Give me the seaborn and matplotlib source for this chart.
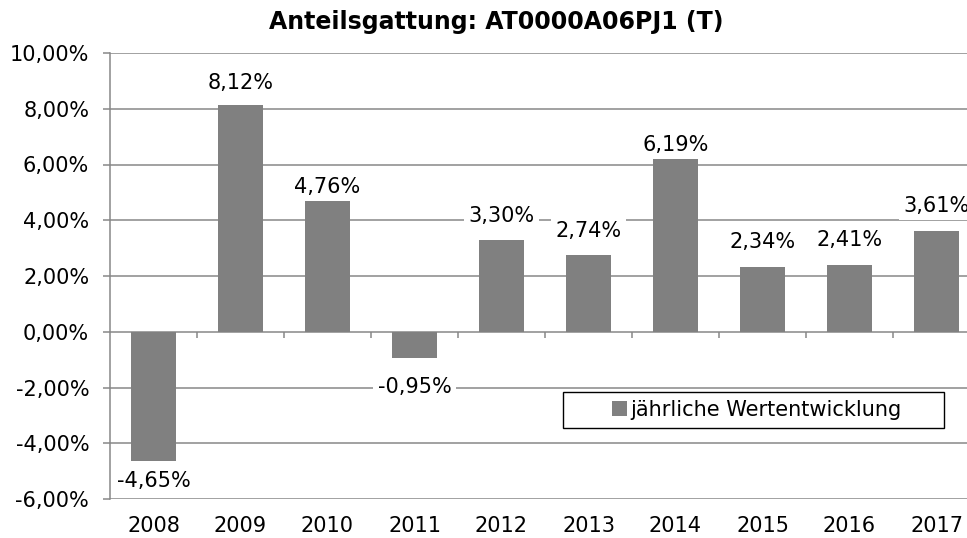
import matplotlib
matplotlib.use('Agg')
import matplotlib.pyplot as plt
from matplotlib.patches import Patch, Rectangle
import seaborn as sns
import pandas as pd

# chart data
years = ["2008", "2009", "2010", "2011", "2012", "2013", "2014", "2015", "2016", "2017"]
returns = [-4.65, 8.12, 4.76, -0.95, 3.30, 2.74, 6.19, 2.34, 2.41, 3.61]
title = "Anteilsgattung: AT0000A06PJ1 (T)"
series_name = "jährliche Wertentwicklung"

# label distance from bar end in pixels (labels were placed by hand in the original)
label_offsets = [-20, 22, 12, -29, 24, 24, 14, 25, 25, 25]

BAR = "#808080"
GRID = "#878787"

sns.set_theme(style="white")
plt.rcParams['font.family'] = ['DejaVu Sans']
plt.rcParams['text.color'] = 'black'


def pct(v):
    return f"{v:.2f}%".replace(".", ",")


df = pd.DataFrame({"Jahr": years, "Wert": returns})

fig = plt.figure(figsize=(9.67, 5.38), dpi=100)
ax = fig.add_axes([110 / 967, 1 - 499 / 538, 870 / 967, 446 / 538])

sns.barplot(data=df, x="Jahr", y="Wert", color=BAR, saturation=1,
            width=0.52, linewidth=0, ax=ax, zorder=3)

ax.set_xlim(-0.5, len(years) - 0.5)
ax.set_ylim(-6, 10)
ax.set_yticks(range(-6, 11, 2))
ax.set_yticklabels([pct(t) for t in range(-6, 11, 2)])
ax.set_xlabel("")
ax.set_ylabel("")

# horizontal gridlines
for t in range(-6, 11, 2):
    ax.axhline(t, color=GRID, lw=1.1, zorder=1)

for s in ["top", "right", "bottom"]:
    ax.spines[s].set_visible(False)
ax.spines["left"].set_color(GRID)
ax.spines["left"].set_linewidth(1.1)
ax.spines["left"].set_zorder(5)

# category separator ticks on the zero line
ax.vlines([i + 0.5 for i in range(len(years) - 1)], -0.24, 0,
          color=GRID, lw=1.1, zorder=2)

ax.tick_params(axis='y', length=5, width=1.1, color=GRID, pad=10,
               labelsize=15, labelcolor="black", left=True)
ax.tick_params(axis='x', length=0, pad=12, labelsize=15, labelcolor="black")

# data labels
for i, (v, off) in enumerate(zip(returns, label_offsets)):
    y_px = ax.transData.transform((i, v))[1] + off
    y = ax.transData.inverted().transform((0, y_px))[1]
    ax.text(i, y, pct(v), ha="center", va="center", fontsize=15, zorder=4,
            color="black",
            bbox=dict(boxstyle="square,pad=0.2", facecolor="white",
                      edgecolor="none"))

fig.text(496 / 967, 1 - 29 / 538, title, ha="center", va="baseline",
         fontsize=17, fontweight="bold", color="black")

# legend box
fig.add_artist(Rectangle((563 / 967, 1 - 428 / 538), 381 / 967, 36 / 538,
                         transform=fig.transFigure, facecolor="white",
                         edgecolor="black", lw=1, zorder=4))
fig.legend(handles=[Patch(facecolor=BAR, edgecolor="none", label=series_name)],
           loc="center", bbox_to_anchor=(757 / 967, 1 - 410 / 538),
           frameon=False, fontsize=15, handlelength=0.7, handleheight=0.7,
           handletextpad=0.2, borderpad=0, labelcolor="black")

fig.savefig("out.png", dpi=100)
